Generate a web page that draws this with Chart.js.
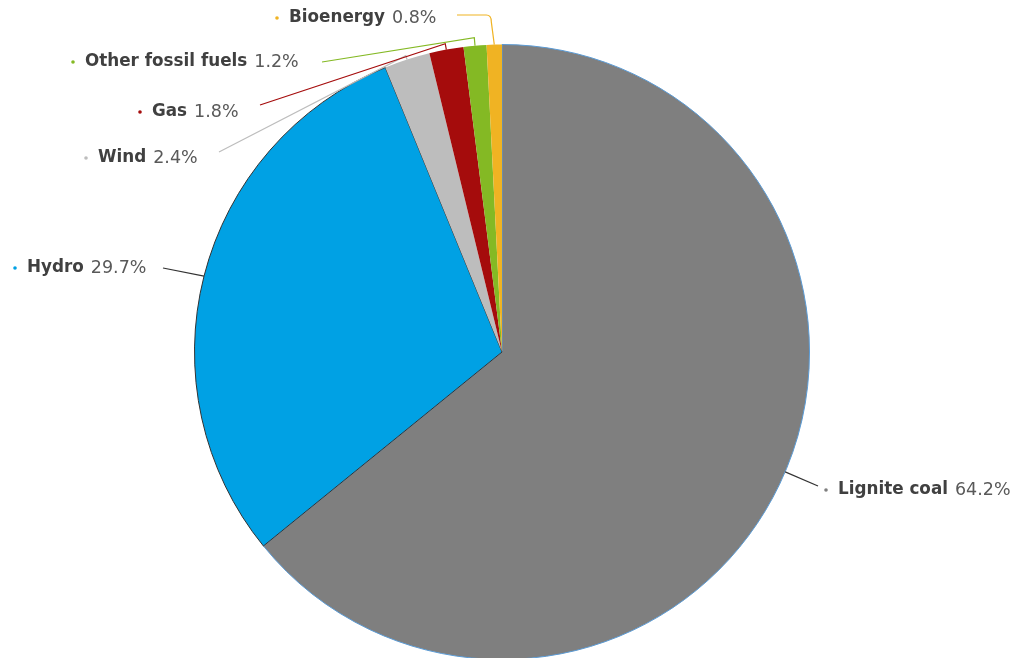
<!DOCTYPE html>
<html lang="en">
<head>
    <meta charset="UTF-8">
    <title>Electricity generation mix</title>
    <script src="https://cdn.jsdelivr.net/npm/chart.js"></script>
    <style>
        body {
            margin: 0;
            background: #fff;
            overflow: hidden;
        }
        #wrap {
            position: absolute;
            top: 0;
            left: 0;
            width: 1016px;
            height: 704px;
        }
    </style>
</head>
<body>
    <div id="wrap">
        <canvas id="pie"></canvas>
    </div>

    <script>
        const categories = ['Lignite coal', 'Hydro', 'Wind', 'Gas', 'Other fossil fuels', 'Bioenergy'];
        const shares = [64.2, 29.7, 2.4, 1.8, 1.2, 0.8];
        const sliceColors = ['#7f7f7f', '#00a1e4', '#bdbdbd', '#a50c0c', '#84b924', '#f0b323'];

        // where each label sits: dot x, text y, end of the leader line, how far it leaves the rim
        // skew = degrees to move the line's start on the rim away from the slice middle
        const labelLayout = [
            { dotX: 826, y: 490, lineX: 818, lineY: 486, out: 0, skew: -2.5 },
            { dotX: 15,  y: 268, lineX: 163, lineY: 268, out: 0, skew: 0 },
            { dotX: 86,  y: 158, lineX: 219, lineY: 152, out: 4, skew: 0 },
            { dotX: 140, y: 112, lineX: 260, lineY: 105, out: 6, skew: 0 },
            { dotX: 73,  y: 62,  lineX: 322, lineY: 62,  out: 8, skew: 0 },
            { dotX: 277, y: 18,  lineX: 457, lineY: 15,  out: 28, skew: 0 }
        ];

        const leaderLabels = {
            id: 'leaderLabels',
            afterDraw(chart) {
                const ctx = chart.ctx;
                const arcs = chart.getDatasetMeta(0).data;
                ctx.save();
                arcs.forEach((arc, i) => {
                    const lay = labelLayout[i];
                    const a = (arc.startAngle + arc.endAngle) / 2 + lay.skew * Math.PI / 180;
                    const r = arc.outerRadius;
                    const px = arc.x + r * Math.cos(a);
                    const py = arc.y + r * Math.sin(a);

                    ctx.strokeStyle = i === 0 || i === 1 ? '#333' : sliceColors[i];
                    ctx.lineWidth = 1.2;
                    ctx.beginPath();
                    ctx.moveTo(px, py);
                    if (lay.out > 0) {
                        if (i === 5) {
                            const vx = px - 3;
                            ctx.lineTo(vx, py - lay.out + 5);
                            ctx.quadraticCurveTo(vx, lay.lineY, vx - 5, lay.lineY);
                        } else {
                            const ox = arc.x + (r + lay.out) * Math.cos(a);
                            const oy = arc.y + (r + lay.out) * Math.sin(a);
                            ctx.lineTo(ox, oy);
                        }
                    }
                    ctx.lineTo(lay.lineX, lay.lineY);
                    ctx.stroke();

                    // dot
                    ctx.fillStyle = sliceColors[i];
                    ctx.beginPath();
                    ctx.arc(lay.dotX, lay.y, 1.8, 0, Math.PI * 2);
                    ctx.fill();

                    ctx.textBaseline = 'middle';
                    ctx.textAlign = 'left';
                    const tx = lay.dotX + 12;
                    ctx.font = 'bold 16.8px "DejaVu Sans", sans-serif';
                    ctx.fillStyle = '#404040';
                    ctx.fillText(categories[i], tx, lay.y);
                    const w = ctx.measureText(categories[i]).width + 7;
                    ctx.font = '17.5px "DejaVu Sans", sans-serif';
                    ctx.fillStyle = '#595959';
                    ctx.fillText(shares[i].toFixed(1) + '%', tx + w, lay.y);
                });
                ctx.restore();
            }
        };

        new Chart(document.getElementById('pie'), {
            type: 'pie',
            data: {
                labels: categories,
                datasets: [{
                    data: shares,
                    backgroundColor: sliceColors,
                    borderColor: ['#5b9bd5', '#333333', '#bdbdbd', '#a50c0c', '#84b924', '#f0b323'],
                    borderWidth: [1, 1, 0, 0, 0, 0]
                }]
            },
            options: {
                responsive: true,
                maintainAspectRatio: false,
                animation: false,
                layout: {
                    padding: { top: 44, bottom: 44, left: 194, right: 206 }
                },
                plugins: {
                    legend: { display: false },
                    tooltip: { enabled: false }
                }
            },
            plugins: [leaderLabels]
        });
    </script>
</body>
</html>
